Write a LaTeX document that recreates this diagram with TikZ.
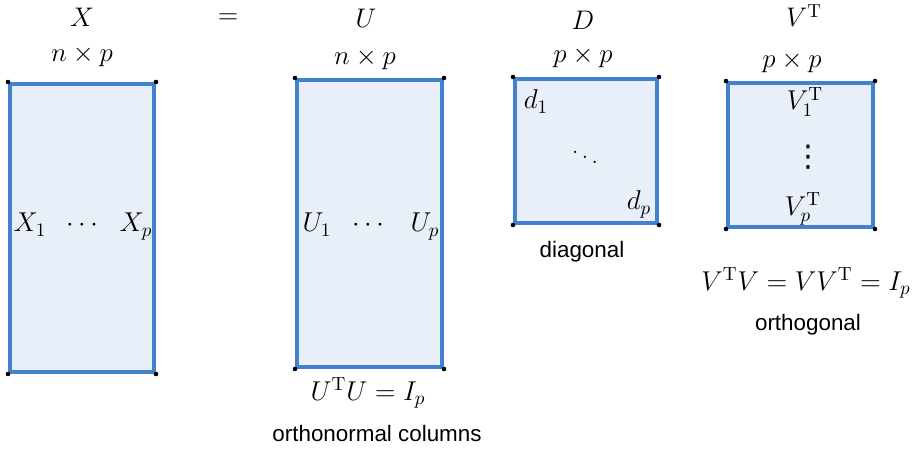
\RequirePackage{fix-cm}
\documentclass[tikz,border=0pt]{standalone}
\usepackage{fontspec}
\setsansfont{Liberation Sans}
\newfontfamily\dotsfont{DejaVu Sans}
\usetikzlibrary{positioning}
\definecolor{matedge}{RGB}{66,129,205}
\definecolor{matfill}{RGB}{232,239,249}
\begin{document}
\begin{tikzpicture}[x=0.02cm, y=-0.02cm,
    mat/.style={draw=matedge, fill=matfill, line width=2.3pt, inner sep=0pt},
    head/.style={anchor=base, inner sep=0pt, font=\fontsize{15.3}{18}\selectfont},
    entry/.style={anchor=base, inner sep=0pt, font=\fontsize{15.5}{18}\selectfont},
    note/.style={anchor=base, inner sep=0pt, font=\fontsize{12.75}{15}\sffamily}]
\useasboundingbox (0,0) rectangle (912,449);

% ---- X = U D V^T ----
\node[mat, minimum width=2.88cm, minimum height=5.76cm] (matX) at (82,228) {};
\node[mat, minimum width=2.9cm, minimum height=5.74cm] (matU) at (369.5,223.5) {};
\node[mat, minimum width=2.84cm, minimum height=2.88cm] (matD) at (586,151) {};
\node[mat, minimum width=2.9cm, minimum height=2.88cm] (matV) at (800.5,155) {};
% black dots at the corners
\foreach \m in {matX,matU,matD,matV} {
    \foreach \c in {north west,north east,south west,south east} {
        \fill (\m.\c) circle (1.3pt);
    }
}

% ---- headers ----
\node[head] (hX) at (82,27) {$X$};
\node[head] (dimX) at (82,62) {$n\times p$};
\node[head] (eq) at (228,24) {$=$};
\node[head] (hU) at (366,28) {$U$};
\node[head] (dimU) at (365,65) {$n\times p$};
\node[head] (hD) at (583,30) {$D$};
\node[head] (dimD) at (583,63) {$p\times p$};
\node[head] (hV) at (804,27) {$V^{\mathrm{T}}$};
\node[head] (dimV) at (792,68) {$p\times p$};

% ---- entries ----
\node[entry] (xone) at (30,232) {$X_1$};
\node[entry] (xdots) at (82,232) {$\cdots$};
\node[entry] (xlast) at (136,232) {$X_p$};
\node[entry] (uone) at (317,232) {$U_1$};
\node[entry] (udots) at (368,232) {$\cdots$};
\node[entry] (ulast) at (425,232) {$U_p$};
\node[entry] (done) at (536,109) {$d_1$};
\node[entry, anchor=center] (ddots) at (585,152) {$\ddots$};
\node[entry] (dlast) at (639,210) {$d_p$};
\node[entry] (vone) at (805,110) {$V^{\mathrm{T}}_1$};
\node[entry, anchor=center, font=\fontsize{17}{18}\dotsfont] (vdots) at (808,157) {⋮};
\node[entry] (vlast) at (803,215) {$V^{\mathrm{T}}_p$};

% ---- properties ----
\node[entry] (relU) at (368,400) {$U^{\mathrm{T}}U=I_p$};
\node[note] (noteU) at (377,441) {orthonormal columns};
\node[note] (noteD) at (582,257) {diagonal};
\node[entry] (relV) at (806,290) {$V^{\mathrm{T}}V=VV^{\mathrm{T}}=I_p$};
\node[note] (noteV) at (808,330) {orthogonal};

\end{tikzpicture}
\end{document}
